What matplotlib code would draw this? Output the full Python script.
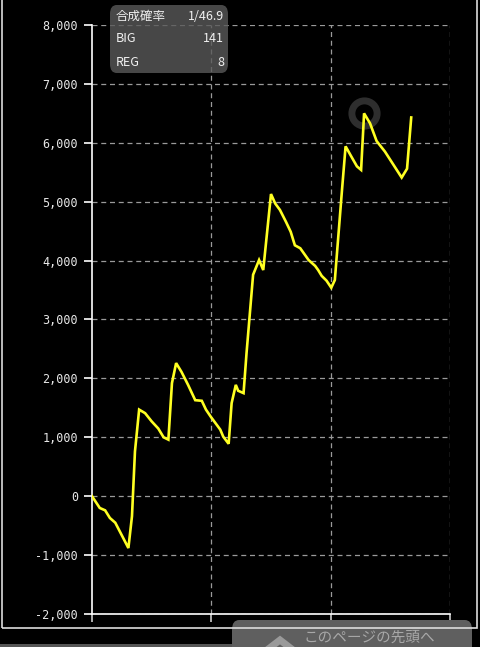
import matplotlib.pyplot as plt
from matplotlib.patches import Rectangle, FancyBboxPatch
from matplotlib.lines import Line2D
from matplotlib.ticker import FuncFormatter

plt.rcParams['font.family'] = ['Noto Sans CJK JP', 'DejaVu Sans']

# ゲーム数と差枚数
games = [0, 130, 220, 300, 390, 610, 670, 720, 790, 890, 1000, 1110, 1200, 1280,
         1340, 1410, 1500, 1610, 1730, 1840, 1910, 1990, 2150, 2200, 2290, 2340,
         2410, 2450, 2540, 2590, 2700, 2800, 2870, 3000, 3070, 3150, 3250, 3330,
         3400, 3490, 3630, 3740, 3790, 3850, 3930, 4010, 4070, 4190, 4250, 4350,
         4440, 4510, 4560, 4660, 4770, 4910, 5190, 5280, 5350]
coins = [0, -200, -240, -370, -450, -880, -340, 760, 1470, 1410, 1270, 1150, 1000, 960,
         1920, 2260, 2110, 1890, 1630, 1620, 1470, 1350, 1130, 1010, 890, 1580,
         1890, 1790, 1750, 2430, 3760, 4010, 3840, 5130, 4970, 4860, 4660, 4490,
         4260, 4210, 4010, 3910, 3840, 3740, 3660, 3540, 3670, 5200, 5940, 5760,
         5600, 5540, 6500, 6330, 6030, 5850, 5410, 5560, 6430]

y_ticks = [-2000, -1000, 0, 1000, 2000, 3000, 4000, 5000, 6000, 7000, 8000]
x_ticks = [0, 2000, 4000, 6000]
legend_rows = [('合成確率', '1/46.9'), ('BIG', '141'), ('REG', '8')]
peak_idx = 52

fig = plt.figure(figsize=(4.8, 6.47), dpi=100, facecolor='black')
ax = fig.add_axes([92 / 480, 1 - 614 / 647, (450 - 92) / 480, (614 - 25) / 647])
ax.set_facecolor('black')

ax.plot(games, coins, color='#ffff22', lw=1.9, zorder=3, solid_joinstyle='miter')
ax.scatter([games[peak_idx]], [coins[peak_idx]], s=330, facecolor='#000000',
           edgecolor='#2e2e2e', linewidths=5, zorder=2)

ax.set_xlim(0, 6000)
ax.set_ylim(-2000, 8000)
ax.set_yticks(y_ticks)
ax.set_xticks(x_ticks)
ax.set_xticklabels([])
ax.yaxis.set_major_formatter(FuncFormatter(lambda v, p: f'{int(v):,}'))
ax.grid(True, axis='y', color='#9a9a9a', ls=(0, (4, 3)), lw=0.9)
for gx in x_ticks[1:]:
    ax.axvline(gx, color='#9a9a9a', ls=(0, (4, 3)), lw=0.9, zorder=1)

for s in ['top', 'right']:
    ax.spines[s].set_visible(False)
for s in ['left', 'bottom']:
    ax.spines[s].set_color('white')
    ax.spines[s].set_linewidth(1.2)
ax.tick_params(axis='y', colors='white', length=6, width=1.2, pad=4, labelsize=8.5)
ax.tick_params(axis='x', colors='#cccccc', length=6, width=1.2)
for lbl in ax.get_yticklabels():
    lbl.set_family('DejaVu Sans Mono')
    lbl.set_color('#e8e8e8')

# ページ先頭ボタン（枠線の下）
fig.patches.append(FancyBboxPatch((232 / 480, -30 / 647), 240 / 480, 57 / 647,
                                  boxstyle='round,pad=0,rounding_size=0.015',
                                  transform=fig.transFigure, facecolor='#5f5f5f',
                                  edgecolor='none', zorder=1))
fig.text(303 / 480, 9 / 647, 'このページの先頭へ', color='#a8a8a8', fontsize=10.5,
         va='center', zorder=6)
fig.lines.append(Line2D([267 / 480, 280 / 480, 293 / 480],
                        [-3 / 647, 7 / 647, -3 / 647], transform=fig.transFigure,
                        color='#9a9a9a', lw=5, solid_joinstyle='miter', zorder=6))

# 外枠
fig.patches.append(Rectangle((2 / 480, 1 - 628 / 647), 475 / 480, 640 / 647,
                             transform=fig.transFigure, fill=False,
                             edgecolor='#dddddd', lw=1.2, zorder=3))
fig.patches.append(Rectangle((0, 0), 232 / 480, 3 / 647, transform=fig.transFigure,
                             facecolor='#555555', edgecolor='none'))

# 凡例ボックス
fig.patches.append(FancyBboxPatch((110 / 480, 1 - 73 / 647), 118 / 480, 68 / 647,
                                  boxstyle='round,pad=0,rounding_size=0.014',
                                  transform=fig.transFigure, facecolor='#5a5a5a',
                                  edgecolor='none', alpha=0.8, zorder=5))
for i, (k, v) in enumerate(legend_rows):
    yy = 1 - (16 + i * 23) / 647
    fig.text(116 / 480, yy, k, color='#f0f0f0', fontsize=9, va='center', zorder=6)
    fig.text(224 / 480, yy, v, color='#f0f0f0', fontsize=9, va='center', ha='right', zorder=6)

fig.savefig('out.png', dpi=100, facecolor='black')
